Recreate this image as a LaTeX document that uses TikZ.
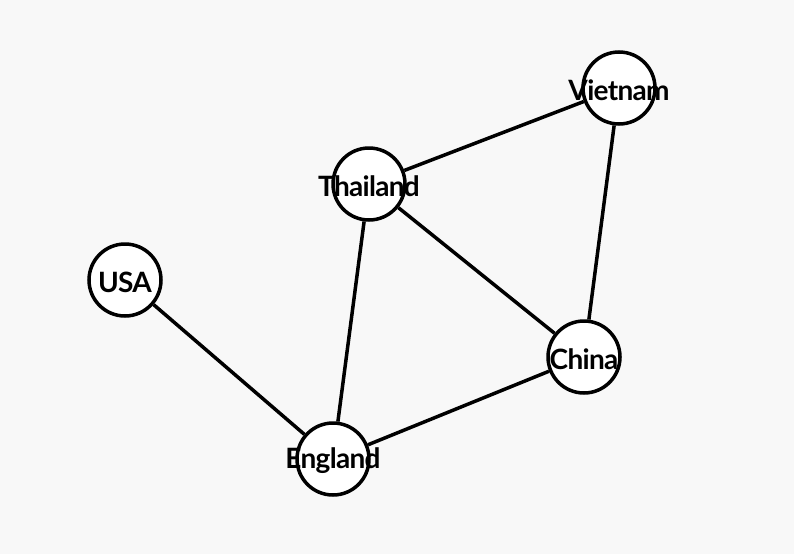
\documentclass[tikz,border=0pt]{standalone}
\usepackage{fontspec}
\setmainfont{Lato}
\newfontfamily\labelfont[LetterSpace=-2.5]{Lato}
\definecolor{bgcol}{HTML}{F8F8F8}
\tikzset{country/.style={circle,draw=black,fill=white,line width=3.5pt,minimum size=72pt,inner sep=0pt},
	label/.style={font=\labelfont\bfseries\fontsize{28}{28}\selectfont,inner sep=0pt,yshift=-2pt}}
\begin{document}
\begin{tikzpicture}[x=1pt,y=-1pt]
		%background
		\fill[bgcol] (0,0) rectangle (794,554);
		\useasboundingbox (0,0) rectangle (794,554);
		%countries
		\node[country](vietnam) at (619,88) {};
		\node[country](thailand) at (369,184) {};
		\node[country](usa) at (125,280) {};
		\node[country](china) at (584,357) {};
		\node[country](england) at (333,459) {};
		%edges
		\draw[line width=3.5pt] (thailand) -- (vietnam);
		\draw[line width=3.5pt] (vietnam) -- (china);
		\draw[line width=3.5pt] (thailand) -- (china);
		\draw[line width=3.5pt] (thailand) -- (england);
		\draw[line width=3.5pt] (usa) -- (england);
		\draw[line width=3.5pt] (england) -- (china);
		%labels
		\node[label](vietnamlabel) at (vietnam) {Vietnam};
		\node[label](thailandlabel) at (thailand) {Thailand};
		\node[label](usalabel) at (usa) {USA};
		\node[label](chinalabel) at (china) {China};
		\node[label](englandlabel) at (england) {England};
\end{tikzpicture}
\end{document}
